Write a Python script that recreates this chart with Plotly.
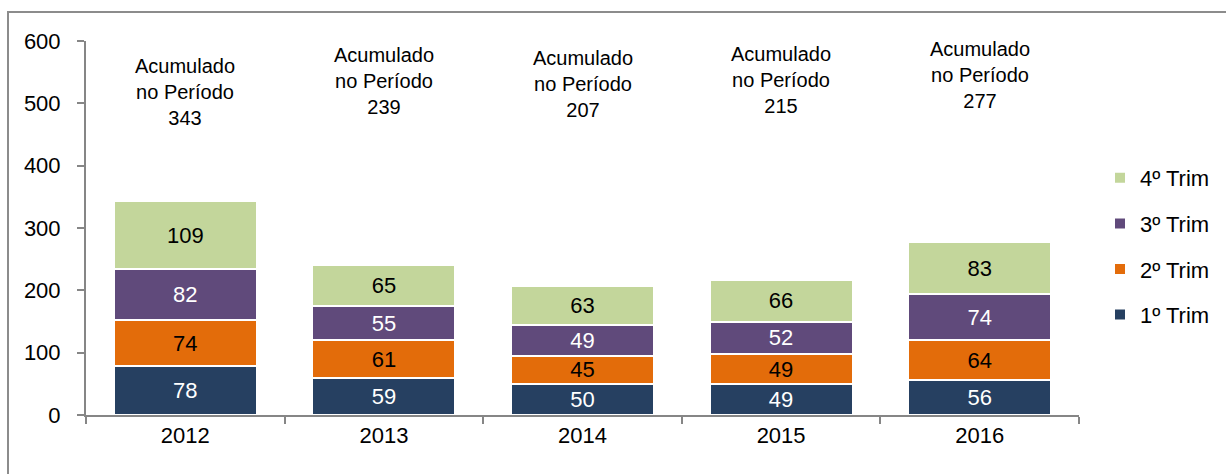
import plotly.graph_objects as go

years = ["2012", "2013", "2014", "2015", "2016"]
trim1 = [78, 59, 50, 49, 56]
trim2 = [74, 61, 45, 49, 64]
trim3 = [82, 55, 49, 52, 74]
trim4 = [109, 65, 63, 66, 83]
totals = [343, 239, 207, 215, 277]
series_names = ["1º Trim", "2º Trim", "3º Trim", "4º Trim"]

colors = ["#264061", "#E36C0A", "#604A7B", "#C3D69B"]
label_colors = ["white", "black", "white", "black"]
# annotation vertical centres, in pixels from top of the page (layout only)
ann_px = [92, 81, 84, 80, 75]

FONT = "Liberation Sans, Arial, sans-serif"
W, H = 1226, 474
L, R, T, B = 86, 147, 41, 59
pw, ph = W - L - R, H - T - B

fig = go.Figure()
for i, (name, vals, c, lc) in enumerate(zip(series_names, [trim1, trim2, trim3, trim4], colors, label_colors)):
    fig.add_trace(go.Bar(
        x=years, y=vals, name=name, legendgroup=name, legendrank=10 - i,
        marker=dict(color=c, line=dict(color="white", width=2)),
        text=[str(v) for v in vals], textposition="inside",
        insidetextanchor="middle", textangle=0, constraintext="none",
        textfont=dict(color=lc, size=22, family=FONT),
        hoverinfo="x+y+name",
    ))

for idx, (yr, tot, py) in enumerate(zip(years, totals, ann_px)):
    fig.add_annotation(
        x=idx, xref="x", y=(H - B - py) / ph, yref="paper",
        text=f"Acumulado<br>no Período<br>{tot}", showarrow=False,
        font=dict(size=20, color="black", family=FONT),
        xanchor="center", yanchor="middle", align="center",
    )

# outer frame
fig.add_shape(type="rect", xref="paper", yref="paper",
              x0=(8 - L) / pw, x1=(W + 10 - L) / pw,
              y0=(H - B - (H + 10)) / ph, y1=(H - B - 12) / ph,
              line=dict(color="#8C8C8C", width=2), fillcolor="rgba(0,0,0,0)", layer="below")

fig.update_layout(
    width=W, height=H,
    margin=dict(l=L, r=R, t=T, b=B, autoexpand=False),
    barmode="stack", bargap=0.28,
    plot_bgcolor="white", paper_bgcolor="white",
    font=dict(family=FONT, size=22, color="black"),
    uniformtext=dict(minsize=22, mode="show"),
    showlegend=True,
    legend=dict(
        x=(1100 - L) / pw, xanchor="left",
        y=(H - B - 157) / ph, yanchor="top",
        traceorder="grouped", tracegroupgap=14,
        font=dict(size=22, family=FONT, color="black"),
        bgcolor="rgba(0,0,0,0)",
    ),
    xaxis=dict(
        type="category", categoryorder="array", categoryarray=years,
        range=[-0.5, len(years) - 0.5], autorange=False,
        showline=True, linecolor="#868686", linewidth=2,
        ticks="outside", tickson="boundaries", ticklen=7, tickcolor="#868686", tickwidth=2,
        showgrid=False, tickfont=dict(size=22, family=FONT),
    ),
    yaxis=dict(
        range=[0, 600], dtick=100, showline=True, linecolor="#868686", linewidth=2,
        ticks="outside", ticklen=7, tickcolor="#868686", tickwidth=2,
        showgrid=False, zeroline=False, ticklabelstandoff=12,
        tickfont=dict(size=22, family=FONT),
    ),
)

fig.write_html("out.html", post_script="document.body.style.margin='0';",
               config={"displayModeBar": False})
